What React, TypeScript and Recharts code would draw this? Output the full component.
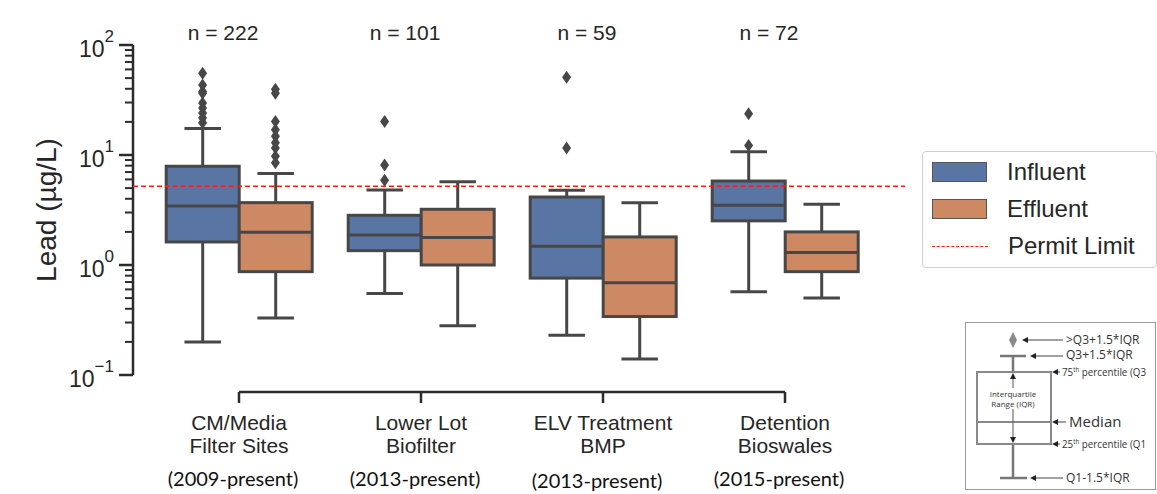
import React from "react";
import { ComposedChart, Bar, Scatter, XAxis, YAxis, ReferenceLine } from "recharts";

const siteLines = [
  ["CM/Media", "Filter Sites"],
  ["Lower Lot", "Biofilter"],
  ["ELV Treatment", "BMP"],
  ["Detention", "Bioswales"],
];
const sitePeriods = ["(2009-present)", "(2013-present)", "(2013-present)", "(2015-present)"];
const sampleCounts = [222, 101, 59, 72];

// box summaries, µg/L
const influentLow = [0.2, 0.55, 0.23, 0.57];
const influentQ1 = [1.62, 1.35, 0.76, 2.52];
const influentMedian = [3.44, 1.87, 1.48, 3.49];
const influentQ3 = [7.9, 2.83, 4.15, 5.8];
const influentHigh = [17.4, 4.8, 4.77, 10.7];

const effluentLow = [0.33, 0.28, 0.14, 0.5];
const effluentQ1 = [0.87, 1.0, 0.34, 0.87];
const effluentMedian = [1.98, 1.78, 0.69, 1.3];
const effluentQ3 = [3.69, 3.21, 1.8, 2.0];
const effluentHigh = [6.8, 5.7, 3.69, 3.56];

const influentOutliers = [
  [55.5, 43.4, 37.8, 36.5, 29.7, 26.7, 24.1, 21.7, 19.6],
  [20.2, 8.1, 5.9],
  [51, 11.6],
  [23.7, 12.2],
];
const effluentOutliers = [
  [39.7, 36.5, 20.2, 17.0, 14.8, 12.9, 11.6, 9.75, 8.5],
  [],
  [],
  [],
];

const permitLimit = 5.2;

const majorTicks = [0.1, 1, 10, 100];
const majorExponents = ["\u22121", "0", "1", "2"];
const minorTicks = [
  0.2, 0.3, 0.4, 0.5, 0.6, 0.7, 0.8, 0.9,
  2, 3, 4, 5, 6, 7, 8, 9,
  20, 30, 40, 50, 60, 70, 80, 90,
];

const sites = siteLines.map((l) => l.join(" "));

const rows = sites.map((name, i) => ({
  name,
  infWhisker: [influentLow[i], influentHigh[i]],
  infBox: [influentQ1[i], influentQ3[i]],
  infMed: [influentQ1[i], influentMedian[i]],
  effWhisker: [effluentLow[i], effluentHigh[i]],
  effBox: [effluentQ1[i], effluentQ3[i]],
  effMed: [effluentQ1[i], effluentMedian[i]],
}));

// boxes take 0.4 of a category each, so their centres sit 0.2 off the tick
const HALF = 0.2;
const influentPoints = influentOutliers.flatMap((vals, i) => vals.map((v) => ({ pos: i - HALF, v })));
const effluentPoints = effluentOutliers.flatMap((vals, i) => vals.map((v) => ({ pos: i + HALF, v })));

const BLUE = "#5875a4";
const ORANGE = "#cc8963";
const LINE = "#474747";
const AXIS = "#2b2b2b";
const FONT = "'Liberation Sans', Arial, sans-serif";
const AXIS_X = 133;
const AXIS_Y = 392;
const PAD = { left: 15, right: 29 };

const Whisker = (p: any) => {
  const top = Math.min(p.y, p.y + p.height);
  const bot = Math.max(p.y, p.y + p.height);
  const cx = p.x + p.width / 2;
  const cap = p.width / 4;
  return (
    <g stroke={LINE} strokeWidth={3}>
      <line x1={cx} x2={cx} y1={top} y2={bot} />
      <line x1={cx - cap} x2={cx + cap} y1={top} y2={top} />
      <line x1={cx - cap} x2={cx + cap} y1={bot} y2={bot} />
    </g>
  );
};

const BoxShape = (p: any) => {
  const top = Math.min(p.y, p.y + p.height);
  return <rect x={p.x} y={top} width={p.width} height={Math.abs(p.height)} fill={p.fill} stroke={LINE} strokeWidth={3} />;
};

const MedianShape = (p: any) => {
  const top = Math.min(p.y, p.y + p.height);
  return <line x1={p.x} x2={p.x + p.width} y1={top} y2={top} stroke={LINE} strokeWidth={3} />;
};

const Diamond = (p: any) => (
  <path d={`M${p.cx},${p.cy - 6.5} L${p.cx + 4.5},${p.cy} L${p.cx},${p.cy + 6.5} L${p.cx - 4.5},${p.cy} Z`} fill={LINE} />
);

const YTick = (p: any) => {
  const v = p.payload.value;
  const y = p.y;
  const i = majorTicks.indexOf(v);
  if (i < 0) {
    return <line x1={AXIS_X - 8} x2={AXIS_X} y1={y} y2={y} stroke={AXIS} strokeWidth={2} />;
  }
  return (
    <g>
      <line x1={AXIS_X - 14} x2={AXIS_X} y1={y} y2={y} stroke={AXIS} strokeWidth={2.5} />
      <text x={AXIS_X - 19} y={y + 12} textAnchor="end" fontFamily={FONT} fontSize={23} fill="#262626">
        <tspan>10</tspan>
        <tspan dy={-15} fontSize={17}>{majorExponents[i]}</tspan>
      </text>
    </g>
  );
};

const XTick = (p: any) => {
  const i = sites.indexOf(p.payload.value);
  const x = p.x;
  const shift = i === 2 ? 2 : 0;
  return (
    <g fill="#262626">
      <line x1={x} x2={x} y1={AXIS_Y} y2={AXIS_Y + 11} stroke={AXIS} strokeWidth={2.5} />
      <text x={x} y={430} textAnchor="middle" fontFamily={FONT} fontSize={21}>{siteLines[i][0]}</text>
      <text x={x} y={453} textAnchor="middle" fontFamily={FONT} fontSize={21}>{siteLines[i][1]}</text>
      <text x={x - 6} y={486 + shift} textAnchor="middle" fontFamily="Lato, sans-serif" fontSize={20} fill="#111">
        {sitePeriods[i]}
      </text>
    </g>
  );
};

const NTick = (p: any) => {
  const i = sites.indexOf(p.payload.value);
  return (
    <text x={p.x - 16} y={40} textAnchor="middle" fontFamily={FONT} fontSize={21} fill="#262626">
      {`n = ${sampleCounts[i]}`}
    </text>
  );
};

const YSpine = (p: any) => (
  <line x1={AXIS_X} x2={AXIS_X} y1={p.y1} y2={p.y2} stroke={AXIS} strokeWidth={2.5} />
);
const XSpine = (p: any) => (
  <line x1={p.x1} x2={p.x2} y1={AXIS_Y} y2={AXIS_Y} stroke={AXIS} strokeWidth={2.5} />
);

const Arrow = ({ x1, x2, y }: { x1: number; x2: number; y: number }) => (
  <g>
    <line x1={x1} x2={x2 + 5} y1={y} y2={y} stroke="#444" strokeWidth={1} />
    <path d={`M${x2},${y} L${x2 + 6},${y - 3} L${x2 + 6},${y + 3} Z`} fill="#222" />
  </g>
);

const Inset = () => (
  <svg width={193} height={170} style={{ position: "absolute", left: 964, top: 321 }}>
    <g transform="translate(-964,-321)" fontFamily="'Open Sans', sans-serif" fill="#333">
      <rect x={965.5} y={322.5} width={190} height={167} fill="#fff" stroke="#999" strokeWidth={1} />
      <path d="M1013,332 L1017,340 L1013,348 L1009,340 Z" fill="#8a8a8a" />
      <Arrow x1={1063} x2={1022} y={340} />
      <text x={1066} y={344} fontSize={12}>&gt;Q3+1.5*IQR</text>
      <g stroke="#777" strokeWidth={2.5}>
        <line x1={1000} x2={1026} y1={356} y2={356} />
        <line x1={1013} x2={1013} y1={356} y2={372} />
        <line x1={1013} x2={1013} y1={444} y2={478} />
        <line x1={1000} x2={1027} y1={478} y2={478} />
      </g>
      <rect x={977} y={372} width={74} height={72} fill="none" stroke="#888" strokeWidth={2} />
      <line x1={977} x2={1051} y1={422} y2={422} stroke="#888" strokeWidth={2} />
      <Arrow x1={1063} x2={1030} y={356} />
      <text x={1066} y={359} fontSize={12}>Q3+1.5*IQR</text>
      <Arrow x1={1060} x2={1052} y={372} />
      <text x={1062} y={376} fontSize={11} textLength={84} lengthAdjust="spacingAndGlyphs">
        75<tspan fontSize={7} dy={-4}>th</tspan><tspan dy={4}> percentile (Q3</tspan>
      </text>
      <Arrow x1={1066} x2={1052} y={422} />
      <text x={1069} y={427} fontSize={15}>Median</text>
      <Arrow x1={1060} x2={1052} y={444} />
      <text x={1062} y={448} fontSize={11} textLength={84} lengthAdjust="spacingAndGlyphs">
        25<tspan fontSize={7} dy={-4}>th</tspan><tspan dy={4}> percentile (Q1</tspan>
      </text>
      <Arrow x1={1063} x2={1030} y={478} />
      <text x={1066} y={482} fontSize={12}>Q1-1.5*IQR</text>
      <line x1={1013} x2={1013} y1={377} y2={388} stroke="#555" strokeWidth={1} />
      <path d="M1013,373 L1016,379 L1010,379 Z" fill="#222" />
      <line x1={1013} x2={1013} y1={409} y2={439} stroke="#555" strokeWidth={1} />
      <path d="M1013,443 L1016,437 L1010,437 Z" fill="#222" />
      <text x={1013} y={397} fontSize={8} textAnchor="middle">Interquartile</text>
      <text x={1013} y={407} fontSize={8} textAnchor="middle">Range (IQR)</text>
    </g>
  </svg>
);

const Legend = () => (
  <div
    style={{
      position: "absolute",
      left: 922,
      top: 151,
      width: 233,
      height: 115,
      border: "1px solid #cfcfcf",
      borderRadius: 4,
      fontFamily: FONT,
      fontSize: 24,
      color: "#262626",
      background: "#fff",
    }}
  >
    {[
      { label: "Influent", fill: BLUE },
      { label: "Effluent", fill: ORANGE },
      { label: "Permit Limit", fill: null },
    ].map((it, k) => (
      <div key={it.label} style={{ position: "absolute", left: 9, top: 7 + k * 37, height: 26, display: "flex", alignItems: "center" }}>
        {it.fill ? (
          <div style={{ width: 53, height: 18, background: it.fill, border: "1.5px solid #555" }} />
        ) : (
          <div style={{ width: 56, height: 0, borderTop: "1.5px dashed #ff1a1a" }} />
        )}
        <span style={{ marginLeft: 20 }}>{it.label}</span>
      </div>
    ))}
  </div>
);

export default function App() {
  return (
    <div style={{ position: "absolute", left: 0, top: 0, width: 1157, height: 494, background: "#fff" }}>
      <ComposedChart width={1157} height={494} data={rows} margin={{ top: 15, right: 252, bottom: 12, left: 73 }} barGap={0} barCategoryGap="10%">
        <XAxis xAxisId="top" orientation="top" dataKey="name" height={30} padding={PAD} axisLine={false} tickLine={false} tick={NTick} interval={0} />
        <XAxis xAxisId="b" dataKey="name" height={90} padding={PAD} axisLine={false} tickLine={false} tick={XTick} interval={0} />
        <XAxis xAxisId="w" dataKey="name" hide padding={PAD} />
        <XAxis xAxisId="m" dataKey="name" hide padding={PAD} />
        <XAxis xAxisId="r" dataKey="name" hide padding={{ left: 15, right: 0 }} />
        <XAxis xAxisId="s" dataKey="pos" type="number" domain={[-0.5, 3.5]} allowDataOverflow hide padding={PAD} />
        <YAxis
          type="number"
          scale="log"
          domain={[0.1, 100]}
          allowDataOverflow
          width={60}
          padding={{ top: 0, bottom: 17 }}
          ticks={[...majorTicks, ...minorTicks].sort((a, b) => a - b)}
          interval={0}
          axisLine={false}
          tickLine={false}
          tick={YTick}
          label={{
            content: () => (
              <text x={46} y={210} transform="rotate(-90 46 210)" textAnchor="middle" dominantBaseline="central" fontFamily={FONT} fontSize={28} fill="#262626">
                Lead (µg/L)
              </text>
            ),
          }}
        />
        <Bar xAxisId="w" dataKey="infWhisker" shape={Whisker} isAnimationActive={false} />
        <Bar xAxisId="w" dataKey="effWhisker" shape={Whisker} isAnimationActive={false} />
        <Bar xAxisId="b" dataKey="infBox" fill={BLUE} shape={BoxShape} isAnimationActive={false} />
        <Bar xAxisId="b" dataKey="effBox" fill={ORANGE} shape={BoxShape} isAnimationActive={false} />
        <Bar xAxisId="m" dataKey="infMed" shape={MedianShape} isAnimationActive={false} />
        <Bar xAxisId="m" dataKey="effMed" shape={MedianShape} isAnimationActive={false} />
        <Scatter xAxisId="s" data={influentPoints} dataKey="v" shape={Diamond} isAnimationActive={false} />
        <Scatter xAxisId="s" data={effluentPoints} dataKey="v" shape={Diamond} isAnimationActive={false} />
        <ReferenceLine xAxisId="b" segment={[{ x: sites[0], y: 0.1 }, { x: sites[0], y: 100 }]} shape={YSpine} />
        <ReferenceLine xAxisId="b" segment={[{ x: sites[0], y: 0.1 }, { x: sites[3], y: 0.1 }]} shape={XSpine} />
        <ReferenceLine xAxisId="r" y={permitLimit} stroke="#ff1a1a" strokeWidth={1.5} strokeDasharray="5 3" />
      </ComposedChart>
      <Legend />
      <Inset />
    </div>
  );
}
